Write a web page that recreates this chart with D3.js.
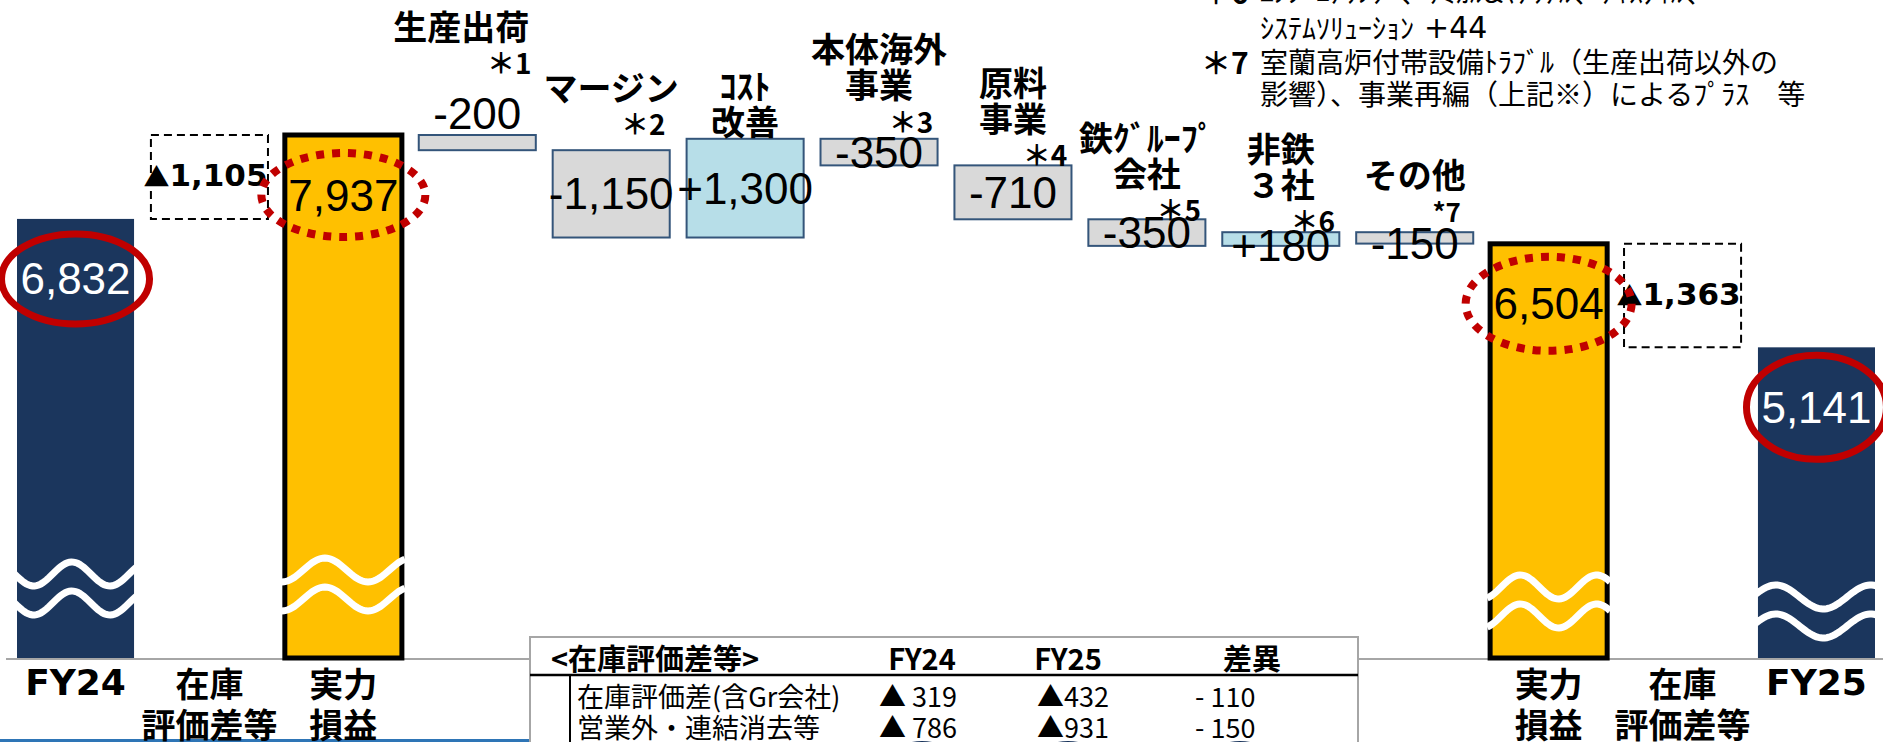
<!DOCTYPE html>
<html>
<head>
<meta charset="utf-8">
<script src="https://cdn.jsdelivr.net/npm/d3@7/dist/d3.min.js"></script>
<style>
body { margin: 0; background: #fff; overflow: hidden; }
svg { display: block; }
text { font-family: "Noto Sans CJK JP", sans-serif; }
.num { font-family: "Liberation Sans", Arial, sans-serif; font-size: 44px; }
.boldnum { font-family: "DejaVu Sans", Verdana, sans-serif; font-weight: bold; }
.head { font-weight: 700; font-size: 34px; }
</style>
</head>
<body>
<div id="chart"></div>
<script>

// bars, left to right
var barKinds  = ["total", "inventory", "core", "delta", "delta", "delta", "delta", "delta", "delta", "delta", "delta", "core", "inventory", "total"];
var barValues = [6832, -1105, 7937, -200, -1150, 1300, -350, -710, -350, 180, -150, 6504, -1363, 5141];

// labels under the baseline
var axisLabels = [["FY24"], ["在庫", "評価差等"], ["実力", "損益"], [], [], [], [], [], [], [], [], ["実力", "損益"], ["在庫", "評価差等"], ["FY25"]];

// labels above the step boxes
var stepNames = [["生産出荷"], ["マージン"], ["ｺｽﾄ", "改善"], ["本体海外", "事業"], ["原料", "事業"], ["鉄ｸﾞﾙｰﾌﾟ", "会社"], ["非鉄", "３社"], ["その他"]];
var stepNotes = ["＊1", "＊2", "", "＊3", "＊4", "＊5", "＊6", "*7"];

// footnotes, top right (first line is cut by the top edge)
var noteMarks = ["＊6", "", "＊7", ""];
var noteLines = ["ｴﾝｼﾞﾆｱﾘﾝｸﾞ、ｹﾐｶﾙ&ﾏﾃﾘｱﾙ、ﾃｷｽﾀｲﾙ、", "ｼｽﾃﾑｿﾘｭｰｼｮﾝ|+44", "室蘭高炉付帯設備ﾄﾗﾌﾞﾙ（生産出荷以外の", "影響）、事業再編（上記※）によるﾌﾟﾗｽ　等"];

// small table
var tableHeader = ["<在庫評価差等>", "FY24", "FY25", "差異"];
var tableRowNames = ["在庫評価差(含Gr会社)", "営業外・連結消去等"];
var tableFY24 = ["▲ 319", "▲ 786"];
var tableFY25 = ["▲432", "▲931"];
var tableDiff = ["- 110", "- 150"];

var W = 1883, H = 742;
var navy = "#1b365d", gold = "#ffc000", red = "#c00000";

var loc = d3.formatLocale({decimal: ".", thousands: ",", grouping: [3], currency: ["", ""], minus: "-"});
var fmtComma = loc.format(","), fmtSigned = loc.format("+,");

var svg = d3.select("#chart").append("svg")
    .attr("width", W)
    .attr("height", H);

// axis is broken (wavy marks), so the value scale does not start at 0
var y = d3.scaleLinear().domain([1050, 7937]).range([658, 135]);
var x = d3.scaleBand().domain(d3.range(barValues.length)).range([17, 1875]).paddingInner(0.126).paddingOuter(0);
var bw = x.bandwidth();

// build waterfall extents
var bars = [];
var run = 0;
barValues.forEach(function(v, i) {
    var k = barKinds[i], lo, hi;
    if (k == "total" || k == "core") { lo = y.domain()[0]; hi = v; run = v; }
    else if (k == "delta") { lo = run; hi = run + v; run = hi; }
    else { lo = barValues[i - 1]; hi = barValues[i + 1]; }
    bars.push({i: i, kind: k, v: v, lo: Math.min(lo, hi), hi: Math.max(lo, hi)});
});

// baseline
svg.append("line")
    .attr("x1", 6).attr("x2", W)
    .attr("y1", y(y.domain()[0]) + 1).attr("y2", y(y.domain()[0]) + 1)
    .attr("stroke", "#a6a6a6").attr("stroke-width", 2);

// bottom blue rule
svg.append("line")
    .attr("x1", 0).attr("x2", 530).attr("y1", 740.5).attr("y2", 740.5)
    .attr("stroke", "#2e75b6").attr("stroke-width", 3);

function fillOf(d) {
    if (d.kind == "total") return navy;
    if (d.kind == "core") return gold;
    if (d.kind == "inventory") return "none";
    return d.v > 0 ? "#b7dee8" : "#d9d9d9";
}

svg.selectAll("rect.bar")
    .data(bars).enter().append("rect")
    .attr("class", "bar")
    .attr("x", function(d) { return x(d.i); })
    .attr("y", function(d) { return y(d.hi); })
    .attr("width", bw)
    .attr("height", function(d) { return y(d.lo) - y(d.hi); })
    .attr("fill", fillOf)
    .attr("stroke", function(d) {
        if (d.kind == "core" || d.kind == "inventory") return "#000";
        if (d.kind == "delta") return "#34557a";
        return "none";
    })
    .attr("stroke-width", function(d) { return d.kind == "core" ? 5 : 2; })
    .attr("stroke-dasharray", function(d) { return d.kind == "inventory" ? "8,5" : null; });

// wavy break marks (px above baseline, peak position and period as share of width)
var breaks = [
    {i: 0, up: 84, peak: 0.47, period: 0.62},
    {i: 2, up: 88, peak: 0.35, period: 0.70},
    {i: 11, up: 71, peak: 0.27, period: 0.62},
    {i: 13, up: 61, peak: 0.17, period: 0.77}
];
var waveLine = d3.line();
breaks.forEach(function(b) {
    var x0 = x(b.i) - 3, x1 = x(b.i) + bw + 3, w = x1 - x0;
    [0, 29].forEach(function(off) {
        var cy = y(y.domain()[0]) - b.up + off;
        var pts = d3.range(0, 61).map(function(k) {
            var xx = x0 + w * k / 60;
            return [xx, cy - 12 * Math.cos(2 * Math.PI * (xx - (x0 + w * b.peak)) / (w * b.period))];
        });
        svg.append("path")
            .attr("d", waveLine(pts))
            .attr("fill", "none")
            .attr("stroke", "#fff")
            .attr("stroke-width", 7);
    });
});

// value labels
bars.forEach(function(d) {
    var cx = x(d.i) + bw / 2;
    var top = y(d.hi), bot = y(d.lo);
    if (d.kind == "total" || d.kind == "core") {
        svg.append("text").attr("class", "num")
            .attr("x", cx).attr("y", top + 60)
            .attr("text-anchor", "middle").attr("dominant-baseline", "central")
            .attr("fill", d.kind == "total" ? "#fff" : "#000")
            .text(fmtComma(d.v));
    } else if (d.kind == "inventory") {
        var t = svg.append("text").attr("class", "boldnum")
            .attr("x", cx - 4).attr("y", (top + bot) / 2 - 2)
            .attr("text-anchor", "middle").attr("dominant-baseline", "central")
            .attr("font-size", 31);
        t.append("tspan")
            .style("font-family", "'Noto Sans CJK JP'")
            .attr("font-size", 26)
            .text("▲");
        t.append("tspan").text(fmtComma(-d.v));
    } else {
        var ly = (top + bot) / 2;
        if (d.i == 3) ly = top - 22;
        else if (bot - top < 18) ly += 6;
        svg.append("text").attr("class", "num")
            .attr("x", cx).attr("y", ly)
            .attr("text-anchor", "middle").attr("dominant-baseline", "central")
            .text(fmtSigned(d.v));
    }
});

// circles round the totals
var rings = [
    {i: 0, rx: 74, ry: 45, dotted: false},
    {i: 2, rx: 82, ry: 42, dotted: true},
    {i: 11, rx: 83, ry: 47, dotted: true},
    {i: 13, rx: 70, ry: 52, dotted: false}
];
rings.forEach(function(r) {
    svg.append("ellipse")
        .attr("cx", x(r.i) + bw / 2)
        .attr("cy", y(barValues[r.i]) + 60)
        .attr("rx", r.rx).attr("ry", r.ry)
        .attr("fill", "none")
        .attr("stroke", red)
        .attr("stroke-width", r.dotted ? 8 : 7)
        .attr("stroke-dasharray", r.dotted ? "8,8" : null);
});

// step names and note marks
var headShift = [-55, -9, 0, 0, 7, 8, 6, -4];
var steps = bars.filter(function(d) { return d.kind == "delta"; });
steps.forEach(function(d, j) {
    var cx = x(d.i) + bw / 2;
    var noteY = y(d.hi) - 18 + headShift[j];
    var lastY = stepNotes[j] ? noteY - 37 : y(d.hi) - 18;
    if (stepNotes[j]) {
        svg.append("text")
            .attr("x", cx + 32).attr("y", noteY)
            .attr("text-anchor", "middle").attr("dominant-baseline", "central")
            .attr("font-weight", 700)
            .attr("font-size", j == 7 ? 26 : 28)
            .text(stepNotes[j]);
    }
    var lines = stepNames[j];
    lines.forEach(function(t, k) {
        svg.append("text").attr("class", "head")
            .attr("x", cx + (j == 0 ? -16 : 0))
            .attr("y", lastY - (lines.length - 1 - k) * 36)
            .attr("text-anchor", "middle").attr("dominant-baseline", "central")
            .text(t);
    });
});

// labels under the baseline
axisLabels.forEach(function(lines, i) {
    lines.forEach(function(t, k) {
        var isFY = t.indexOf("FY") == 0;
        svg.append("text")
            .attr("class", isFY ? "boldnum" : "head")
            .attr("font-size", isFY ? 36 : null)
            .attr("x", x(i) + bw / 2)
            .attr("y", 682 + k * 41)
            .attr("text-anchor", "middle").attr("dominant-baseline", "central")
            .text(t);
    });
});

// footnotes
noteLines.forEach(function(t, k) {
    var ly = [-9, 27, 61, 93][k];
    if (noteMarks[k]) {
        svg.append("text")
            .attr("x", 1201).attr("y", ly)
            .attr("dominant-baseline", "central")
            .attr("font-weight", 700).attr("font-size", 30)
            .text(noteMarks[k]);
    }
    var parts = t.split("|");
    var nt = svg.append("text")
        .attr("x", 1260).attr("y", ly)
        .attr("dominant-baseline", "central")
        .attr("font-size", 28);
    nt.append("tspan").text(parts[0]);
    if (parts[1]) {
        nt.append("tspan")
            .attr("dx", 10)
            .style("font-family", "'DejaVu Sans'")
            .attr("font-size", 30)
            .text(parts[1]);
    }
});

// inventory table
var tb = svg.append("g");
tb.append("rect")
    .attr("x", 530).attr("y", 637).attr("width", 828).attr("height", 130)
    .attr("fill", "#fff").attr("stroke", "#a6a6a6").attr("stroke-width", 2);
tb.append("line").attr("x1", 530).attr("x2", 1358).attr("y1", 675).attr("y2", 675)
    .attr("stroke", "#000").attr("stroke-width", 2.5);
tb.append("line").attr("x1", 570).attr("x2", 570).attr("y1", 675).attr("y2", H)
    .attr("stroke", "#000").attr("stroke-width", 2);

var colX = [551, 922, 1068, 1252];
tableHeader.forEach(function(t, c) {
    tb.append("text")
        .attr("x", colX[c]).attr("y", 657)
        .attr("text-anchor", c == 0 ? "start" : "middle")
        .attr("dominant-baseline", "central")
        .attr("font-weight", 700).attr("font-size", 29)
        .text(t);
});
var cellX = [577, 879, 1037, 1195];
tableRowNames.forEach(function(name, r) {
    var cells = [name, tableFY24[r], tableFY25[r], tableDiff[r]];
    cells.forEach(function(t, c) {
        tb.append("text")
            .attr("x", cellX[c]).attr("y", 695 + r * 31)
            .attr("dominant-baseline", "central")
            .attr("font-size", 27)
            .text(t);
    });
});
// tops of the marks below the table (cut by the frame)
[922, 1068, 1240].forEach(function(cx) {
    tb.append("ellipse").attr("cx", cx).attr("cy", 758).attr("rx", 30).attr("ry", 17)
        .attr("fill", navy);
});

</script>
</body>
</html>
